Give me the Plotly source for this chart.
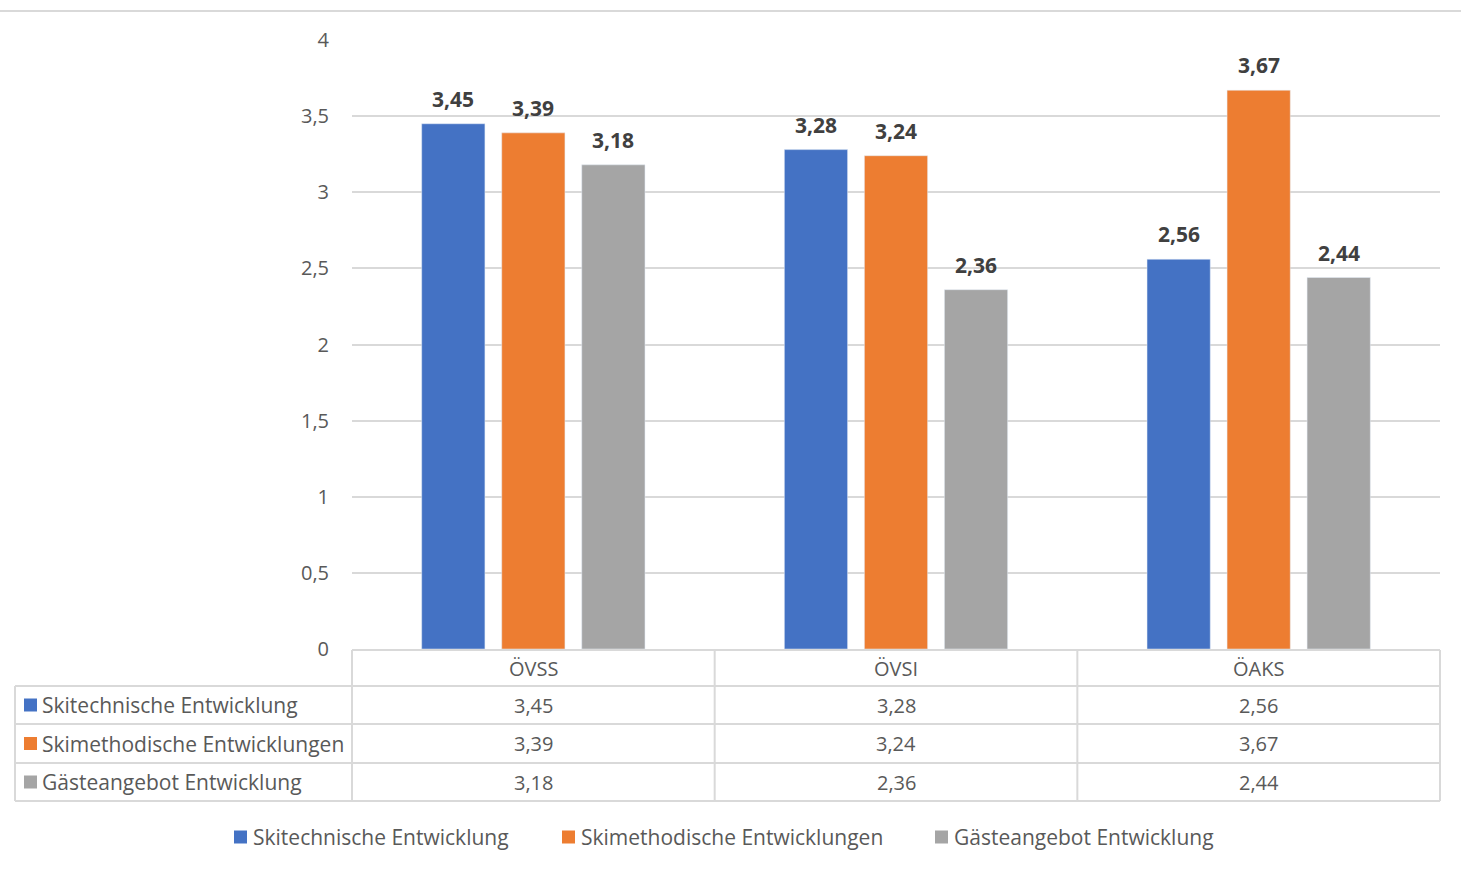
import plotly.graph_objects as go

categories = ["ÖVSS", "ÖVSI", "ÖAKS"]
series_names = ["Skitechnische Entwicklung", "Skimethodische Entwicklungen", "Gästeangebot Entwicklung"]
skitechnische = [3.45, 3.28, 2.56]
skimethodische = [3.39, 3.24, 3.67]
gaesteangebot = [3.18, 2.36, 2.44]
colors = ["#4472C4", "#ED7D31", "#A5A5A5"]

W, H = 1461, 869
def px(x): return x / W
def py(y): return 1 - y / H

FONT = "Open Sans"
TXT = "#595959"
GRID = "#d9d9d9"

series = [skitechnische, skimethodische, gaesteangebot]

x_left, x_lab, x_right = 15, 352, 1440
col_w = (x_right - x_lab) / 3
slot = col_w * (1 - 0.338) / 3

fig = go.Figure()
annotations = []
for k, (name, vals, c) in enumerate(zip(series_names, series, colors)):
    fig.add_trace(go.Bar(x=categories, y=vals, name=name, marker_color=c, showlegend=False))
    for cat, v in zip(categories, vals):
        annotations.append(dict(xref="x", yref="y", x=cat, y=v, text=f"<b>{v:.2f}</b>".replace(".", ","),
                                showarrow=False, xanchor="center", yanchor="middle",
                                xshift=(k - 1) * slot, yshift=25,
                                font=dict(family=FONT, size=21, color="#404040")))

shapes = []
shapes.append(dict(type="line", xref="paper", yref="paper", x0=0, x1=1, y0=py(11), y1=py(11),
                   line=dict(color=GRID, width=2)))

col_edges = [x_lab + i * col_w for i in range(4)]
row_edges = [650, 686, 724, 763, 801]

shapes.append(dict(type="line", xref="paper", yref="paper", x0=px(x_lab), x1=px(x_right),
                   y0=py(650), y1=py(650), line=dict(color=GRID, width=2)))
for ry in row_edges[1:]:
    shapes.append(dict(type="line", xref="paper", yref="paper", x0=px(x_left), x1=px(x_right),
                       y0=py(ry), y1=py(ry), line=dict(color=GRID, width=2)))
for cx in col_edges:
    shapes.append(dict(type="line", xref="paper", yref="paper", x0=px(cx), x1=px(cx),
                       y0=py(650), y1=py(801), line=dict(color=GRID, width=2)))
shapes.append(dict(type="line", xref="paper", yref="paper", x0=px(x_left), x1=px(x_left),
                   y0=py(686), y1=py(801), line=dict(color=GRID, width=2)))

for i, cat in enumerate(categories):
    annotations.append(dict(xref="paper", yref="paper", x=px(col_edges[i] + col_w / 2), y=py(668),
                            text=cat, showarrow=False, xanchor="center", yanchor="middle",
                            font=dict(family=FONT, size=20, color=TXT)))
for r, (name, vals, c) in enumerate(zip(series_names, series, colors)):
    top, bot = row_edges[r + 1], row_edges[r + 2]
    cy = (top + bot) / 2
    shapes.append(dict(type="rect", xref="paper", yref="paper", x0=px(24), x1=px(37),
                       y0=py(cy - 6.5), y1=py(cy + 6.5), fillcolor=c, line=dict(width=0)))
    annotations.append(dict(xref="paper", yref="paper", x=px(40), y=py(cy), text=name,
                            showarrow=False, xanchor="left", yanchor="middle",
                            font=dict(family=FONT, size=21, color=TXT)))
    for i, v in enumerate(vals):
        annotations.append(dict(xref="paper", yref="paper", x=px(col_edges[i] + col_w / 2), y=py(cy),
                                text=f"{v:.2f}".replace(".", ","), showarrow=False,
                                xanchor="center", yanchor="middle",
                                font=dict(family=FONT, size=20, color=TXT)))

# bottom legend
legend_x = [234, 562, 935]
legend_y = 837
for lx, name, c in zip(legend_x, series_names, colors):
    shapes.append(dict(type="rect", xref="paper", yref="paper", x0=px(lx), x1=px(lx + 13),
                       y0=py(legend_y - 6.5), y1=py(legend_y + 6.5), fillcolor=c, line=dict(width=0)))
    annotations.append(dict(xref="paper", yref="paper", x=px(lx + 17), y=py(legend_y), text=name,
                            showarrow=False, xanchor="left", yanchor="middle",
                            font=dict(family=FONT, size=21, color=TXT)))

fig.update_layout(
    width=W, height=H,
    margin=dict(l=0, r=0, t=0, b=0, autoexpand=False),
    paper_bgcolor="white", plot_bgcolor="white",
    separators=",.",
    barmode="group", bargap=0.338, bargroupgap=0.21,
    shapes=shapes, annotations=annotations,
    xaxis=dict(domain=[px(352), px(1440)], showticklabels=False, showgrid=False,
               zeroline=False, showline=False, ticks=""),
    yaxis=dict(domain=[py(649), py(40)], range=[0, 4], dtick=0.5, showgrid=True,
               gridcolor=GRID, gridwidth=2, zeroline=False, showline=False,
               tickfont=dict(family=FONT, size=20, color=TXT), ticklabelstandoff=22),
    showlegend=False,
)

fig.write_html("out.html", config={"displayModeBar": False},
               post_script="document.body.style.margin='0';document.body.style.overflow='hidden';")
